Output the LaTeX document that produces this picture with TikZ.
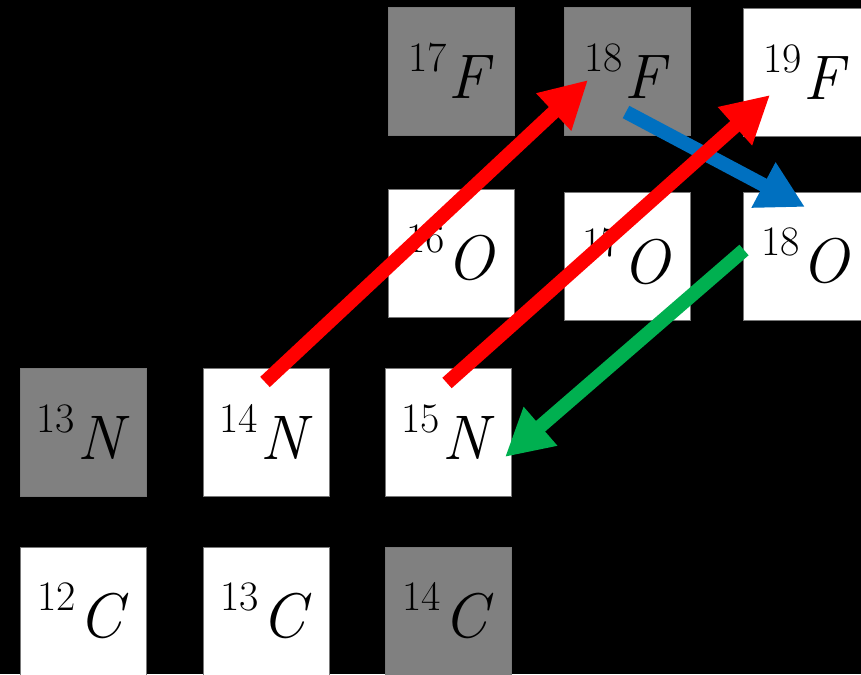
\documentclass[tikz,border=0pt]{standalone}
\usepackage{fontspec}
\usetikzlibrary{arrows.meta,calc}
\definecolor{boxgray}{RGB}{128,128,128}
\definecolor{edgegray}{RGB}{120,120,120}
\definecolor{arrred}{RGB}{255,0,0}
\definecolor{arrblue}{RGB}{0,112,192}
\definecolor{arrgreen}{RGB}{0,176,80}
\newcommand{\iso}[2]{\raisebox{27pt}{\fontsize{42}{42}\selectfont #1}\kern2pt\textit{#2}}
\tikzset{
  nuc/.style={rectangle, draw=edgegray, line width=0.8pt, inner sep=0pt,
    minimum width=126pt, minimum height=128pt,
    font=\fontsize{63}{70}\selectfont},
  stable/.style={nuc, fill=white},
  unstable/.style={nuc, fill=boxgray},
  flow/.style={line width=14pt, -{Triangle[length=47pt,width=48pt]}},
}
\begin{document}
\begin{tikzpicture}[x=1pt,y=-1pt]
\fill[black] (0,0) rectangle (861,674);
\useasboundingbox (0,0) rectangle (861,674);
\clip (0,0) rectangle (861,674);
% row F
\node[unstable] (f17) at (451,71) {\iso{17}{F}};
\node[unstable] (f18) at (627,71) {\iso{18}{F}};
\node[stable]   (f19) at (806,72) {\iso{19}{F}};
% row O
\node[stable] (o16) at (451,253) {\iso{16}{O}};
\node[stable] (o17) at (627,256) {\iso{17}{O}};
\node[stable] (o18) at (806,256) {\iso{18}{O}};
% row N
\node[unstable] (n13) at (83,432) {\iso{13}{N}};
\node[stable]   (n14) at (266,432) {\iso{14}{N}};
\node[stable]   (n15) at (448,432) {\iso{15}{N}};
% row C
\node[stable]   (c12) at (83,611) {\iso{12}{C}};
\node[stable]   (c13) at (266,611) {\iso{13}{C}};
\node[unstable] (c14) at (448,611) {\iso{14}{C}};
% arrows
\draw[flow, arrblue] ($(f18.center)+(-1,41)$) -- ($(o18.center)+(-1,-49)$);
\draw[flow, arrred] ($(n14.center)+(-1,-50)$) -- ($(f18.center)+(-39,9)$);
\draw[flow, arrred] ($(n15.center)+(-1,-49)$) -- ($(f19.center)+(-36,23)$);
\draw[flow, arrgreen] ($(o18.center)+(-62,-6)$) -- ($(n15.center)+(57,25)$);
\end{tikzpicture}
\end{document}
